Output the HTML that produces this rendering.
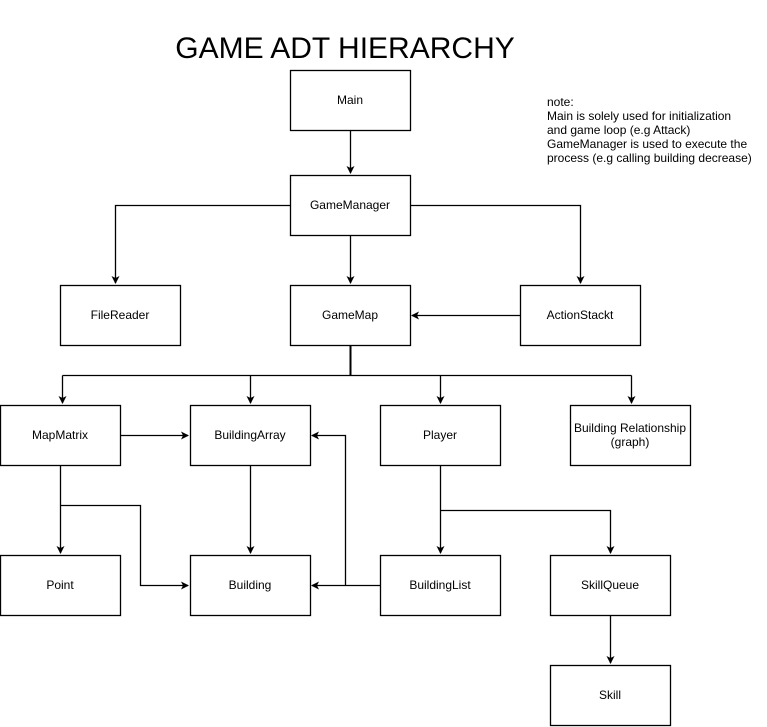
<!DOCTYPE html>
<html><head><style>
html,body{margin:0;padding:0;background:#fff;}
svg{display:block;}
text{font-family:"Liberation Sans",Arial,sans-serif;font-size:12px;fill:#000;}
</style></head><body>
<svg width="767" height="727" viewBox="0 0 767 727" xmlns="http://www.w3.org/2000/svg">
<defs>
<marker id="a" markerWidth="10" markerHeight="10" refX="7" refY="4" orient="auto" markerUnits="userSpaceOnUse">
<path d="M0,0 L8,4 L0,8 L2,4 Z" fill="#000"/>
</marker>
</defs>
<text x="345" y="58" text-anchor="middle" style="font-size:30px">GAME ADT HIERARCHY</text>
<g style="font-size:12px">
<text x="547" y="106">note:</text>
<text x="547" y="120">Main is solely used for initialization</text>
<text x="547" y="134">and game loop (e.g Attack)</text>
<text x="547" y="148">GameManager is used to execute the</text>
<text x="547" y="162">process (e.g calling building decrease)</text>
</g>
<g fill="none" stroke="#000" stroke-width="1.3">
<path d="M350.5,130 V173" marker-end="url(#a)"/>
<path d="M290,205.5 H115.5 V283" marker-end="url(#a)"/>
<path d="M350.5,235 V283" marker-end="url(#a)"/>
<path d="M410,205.5 H580.5 V283" marker-end="url(#a)"/>
<path d="M520,315.5 H412" marker-end="url(#a)"/>
<path d="M350.5,345 V375.5" stroke-width="2"/>
<path d="M62.5,375.5 H631.5"/>
<path d="M62.5,375.5 V403" marker-end="url(#a)"/>
<path d="M250.5,375.5 V403" marker-end="url(#a)"/>
<path d="M440.5,375.5 V403" marker-end="url(#a)"/>
<path d="M631.5,375.5 V403" marker-end="url(#a)"/>
<path d="M120,435.5 H188" marker-end="url(#a)"/>
<path d="M60.5,465 V553" marker-end="url(#a)"/>
<path d="M60.5,505.5 H140.5 V585.5 H188" marker-end="url(#a)"/>
<path d="M250.5,465 V553" marker-end="url(#a)"/>
<path d="M380,585.5 H312" marker-end="url(#a)"/>
<path d="M345.5,585.5 V435.5 H312" marker-end="url(#a)"/>
<path d="M440.5,465 V553" marker-end="url(#a)"/>
<path d="M440.5,510.5 H610.5 V553" marker-end="url(#a)"/>
<path d="M610.5,615 V663" marker-end="url(#a)"/>
</g>
<g fill="#fff" stroke="#000" stroke-width="1.3">
<rect x="290.5" y="70.5" width="120" height="60"/>
<rect x="290.5" y="175.5" width="120" height="60"/>
<rect x="60.5" y="285.5" width="120" height="60"/>
<rect x="290.5" y="285.5" width="120" height="60"/>
<rect x="520.5" y="285.5" width="120" height="60"/>
<rect x="0.5" y="405.5" width="120" height="60"/>
<rect x="190.5" y="405.5" width="120" height="60"/>
<rect x="380.5" y="405.5" width="120" height="60"/>
<rect x="570.5" y="405.5" width="120" height="60"/>
<rect x="0.5" y="555.5" width="120" height="60"/>
<rect x="190.5" y="555.5" width="120" height="60"/>
<rect x="380.5" y="555.5" width="120" height="60"/>
<rect x="550.5" y="555.5" width="120" height="60"/>
<rect x="550.5" y="665.5" width="120" height="60"/>
</g>
<g text-anchor="middle">
<text x="350" y="104">Main</text>
<text x="350" y="209">GameManager</text>
<text x="120" y="319">FileReader</text>
<text x="350" y="319">GameMap</text>
<text x="580" y="319">ActionStackt</text>
<text x="60" y="439">MapMatrix</text>
<text x="250" y="439">BuildingArray</text>
<text x="440" y="439">Player</text>
<text x="630" y="432">Building Relationship</text>
<text x="630" y="446">(graph)</text>
<text x="60" y="589">Point</text>
<text x="250" y="589">Building</text>
<text x="440" y="589">BuildingList</text>
<text x="610" y="589">SkillQueue</text>
<text x="610" y="699">Skill</text>
</g>
</svg>
</body></html>
